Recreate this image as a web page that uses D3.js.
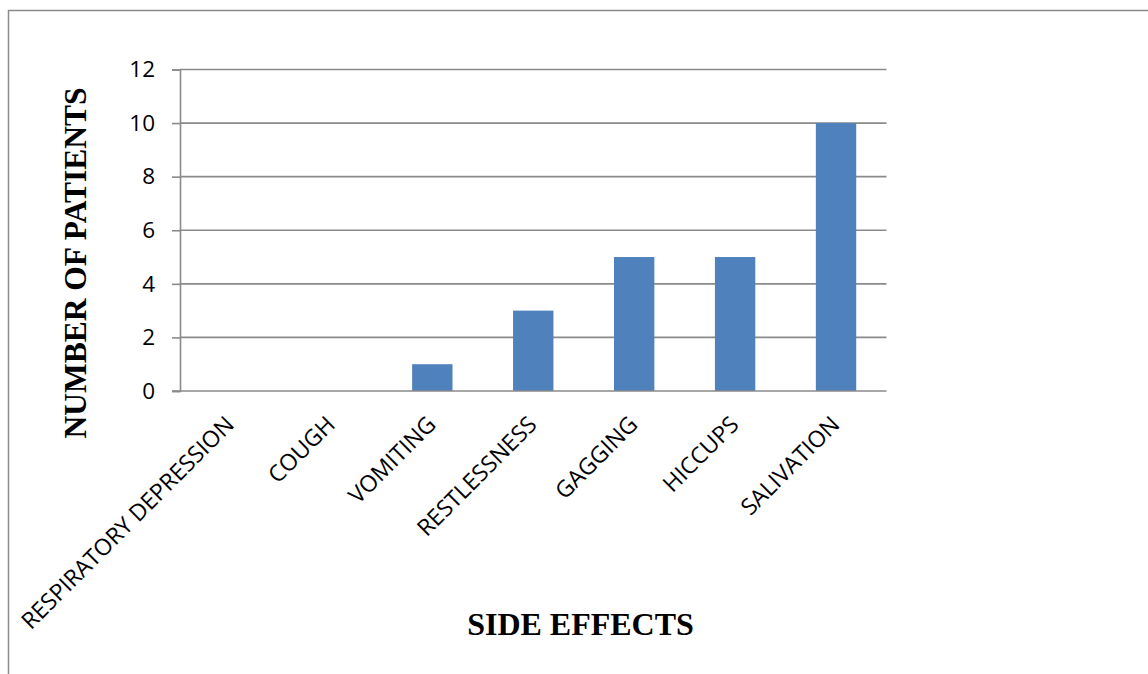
<!DOCTYPE html>
<html>
<head>
<meta charset="utf-8">
<script src="https://cdn.jsdelivr.net/npm/d3@7"></script>
<style>
  html, body { margin: 0; padding: 0; background: #fff; }
  svg { display: block; }
</style>
</head>
<body>
<svg id="chart" width="1148" height="674"></svg>
<script>
const categories = ["RESPIRATORY DEPRESSION", "COUGH", "VOMITING", "RESTLESSNESS", "GAGGING", "HICCUPS", "SALIVATION"];
const patients = [0, 0, 1, 3, 5, 5, 10];
const yTicks = [0, 2, 4, 6, 8, 10, 12];
const yTitle = "NUMBER OF PATIENTS";
const xTitle = "SIDE EFFECTS";

const svg = d3.select("#chart");
const W = 1148, H = 674;
const plot = { left: 180, right: 886.5, top: 69.5, bottom: 391 };
const gridColor = "#8a8a8a";
const barColor = "#4F81BD";
const labelFont = "'Open Sans', 'Noto Sans', sans-serif";
const titleFont = "'Liberation Serif', 'Times New Roman', serif";

// outer frame (top and left edges visible)
svg.append("line").attr("x1", 8).attr("x2", W).attr("y1", 10.5).attr("y2", 10.5)
  .attr("stroke", gridColor).attr("stroke-width", 1.5);
svg.append("line").attr("x1", 8.5).attr("x2", 8.5).attr("y1", 10).attr("y2", H)
  .attr("stroke", gridColor).attr("stroke-width", 1.5);

const x = d3.scaleBand().domain(categories).range([plot.left, plot.right])
  .paddingInner(0.6).paddingOuter(0.3);
const y = d3.scaleLinear().domain([0, 12]).range([plot.bottom, plot.top]);

// gridlines
svg.append("g").selectAll("line").data(yTicks.filter(t => t > 0)).join("line")
  .attr("x1", plot.left).attr("x2", plot.right)
  .attr("y1", d => y(d)).attr("y2", d => y(d))
  .attr("stroke", gridColor).attr("stroke-width", 1.6);

// bars
svg.append("g").selectAll("rect").data(categories).join("rect")
  .attr("x", (d) => x(d))
  .attr("width", x.bandwidth())
  .attr("y", (d, i) => y(patients[i]))
  .attr("height", (d, i) => y(0) - y(patients[i]))
  .attr("fill", barColor);

// y axis
const yAxis = d3.axisLeft(y).tickValues(yTicks).tickSize(8).tickPadding(17).tickFormat(d3.format("d"));
const gy = svg.append("g").attr("transform", `translate(${plot.left},0)`).call(yAxis);
gy.select(".domain").attr("stroke", gridColor).attr("stroke-width", 1.6);
gy.selectAll(".tick line").attr("stroke", gridColor).attr("stroke-width", 1.6);
gy.selectAll(".tick text").attr("font-family", labelFont).attr("font-size", 22.5).attr("fill", "#000");

// x axis baseline
svg.append("line").attr("x1", plot.left - 8).attr("x2", plot.right)
  .attr("y1", y(0)).attr("y2", y(0))
  .attr("stroke", gridColor).attr("stroke-width", 1.6);

// x category labels rotated -45
svg.append("g").selectAll("text").data(categories).join("text")
  .attr("transform", d => `translate(${x(d) + x.bandwidth() / 2 + 5},${plot.bottom + 35}) rotate(-45)`)
  .attr("text-anchor", "end")
  .attr("font-family", labelFont).attr("font-size", 23).attr("fill", "#000")
  .text(d => d);

// axis titles
svg.append("text")
  .attr("transform", `translate(86,263) rotate(-90)`)
  .attr("text-anchor", "middle")
  .attr("font-family", titleFont).attr("font-weight", "bold").attr("font-size", 31.5)
  .attr("fill", "#000")
  .text(yTitle);

svg.append("text")
  .attr("x", 580.5).attr("y", 635)
  .attr("text-anchor", "middle")
  .attr("font-family", titleFont).attr("font-weight", "bold").attr("font-size", 32)
  .attr("fill", "#000")
  .text(xTitle);
</script>
</body>
</html>
